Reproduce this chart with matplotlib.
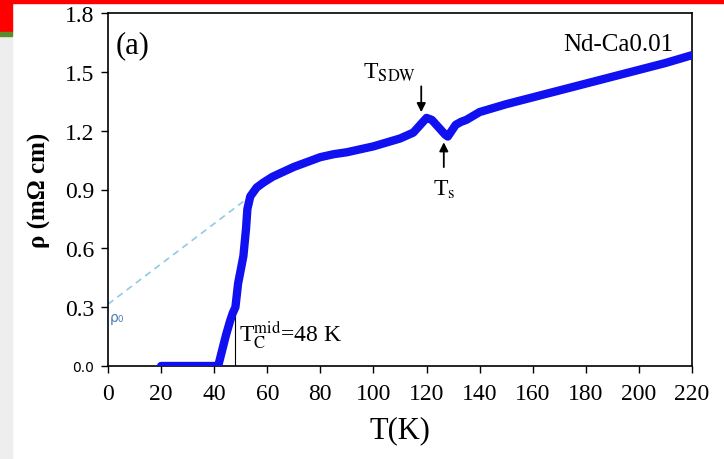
import matplotlib
matplotlib.use("Agg")
import matplotlib.pyplot as plt
from matplotlib.patches import Rectangle

# resistivity curve
temp = [20, 25, 30, 35, 40, 41.5, 43, 44.5, 46, 47, 48, 49, 50, 51, 52, 52.5,
        53.6, 56, 58.5, 62, 66, 70, 75, 80, 85, 90, 95, 100, 105, 110, 115,
        118, 120, 122, 125, 127, 128, 129, 131, 133, 135, 140, 150, 160, 170,
        180, 190, 200, 210, 220]
rho = [0.0, 0.0, 0.0, 0.0, 0.0, 0.0, 0.08, 0.16, 0.23, 0.27, 0.30, 0.42, 0.49,
       0.56, 0.70, 0.80, 0.865, 0.91, 0.935, 0.965, 0.99, 1.015, 1.04, 1.065,
       1.08, 1.09, 1.105, 1.12, 1.14, 1.16, 1.19, 1.235, 1.265, 1.255, 1.21,
       1.18, 1.17, 1.19, 1.23, 1.245, 1.255, 1.295, 1.335, 1.37, 1.405, 1.44,
       1.475, 1.51, 1.545, 1.585]

# extrapolation of the normal-state resistivity to T = 0
fit_t = [0, 55]
fit_rho = [0.315, 0.88]

tc_mid = 48
tc_rho = 0.29
t_sdw = 118
rho_sdw = 1.28
t_s = 126.5
rho_s = 1.155

xticks = list(range(0, 221, 20))
yticks = [0.0, 0.3, 0.6, 0.9, 1.2, 1.5, 1.8]

serif = "Liberation Serif"

fig = plt.figure(figsize=(7.24, 4.60), dpi=100)
fig.patch.set_facecolor("white")

# screenshot leftovers around the figure
fig.patches.append(Rectangle((0, 0), 12 / 724, 1 - 37 / 460, transform=fig.transFigure,
                             color="#eeeeee", zorder=0))
fig.patches.append(Rectangle((0, 1 - 4 / 460), 1, 4 / 460, transform=fig.transFigure,
                             color="#ff0000", zorder=0))
fig.patches.append(Rectangle((0, 1 - 33 / 460), 12 / 724, 33 / 460, transform=fig.transFigure,
                             color="#ff0000", zorder=0))
fig.patches.append(Rectangle((0, 1 - 37 / 460), 12 / 724, 4 / 460, transform=fig.transFigure,
                             color="#5b8c2a", zorder=0))

ax = fig.add_axes([108 / 724, 1 - 367 / 460, 584 / 724, 353 / 460])

ax.plot(fit_t, fit_rho, ls=(0, (4, 3)), color="#8ecbe6", lw=1.2, zorder=2)
ax.plot(temp, rho, color="#1010f0", lw=6, solid_capstyle="round",
        solid_joinstyle="round", zorder=3)
ax.plot([tc_mid, tc_mid], [0, tc_rho], color="black", lw=0.8, zorder=2)

ax.set_xlim(0, 220)
ax.set_ylim(0, 1.8)
ax.set_xticks(xticks)
ax.set_yticks(yticks)
ax.set_xticklabels([str(v) for v in xticks], fontfamily=serif, fontsize=17)
ylabels = ax.set_yticklabels([f"{v:.1f}" for v in yticks], fontfamily=serif, fontsize=17)
ylabels[0].set_fontfamily("DejaVu Sans")
ylabels[0].set_fontsize(10)
ax.tick_params(axis="x", direction="out", length=5, width=1, pad=7)
ax.tick_params(axis="y", direction="out", length=5, width=1, pad=5)
ax.tick_params(top=False, right=False)
for sp in ax.spines.values():
    sp.set_linewidth(1.2)

ax.set_xlabel("T(K)", fontfamily=serif, fontsize=22, labelpad=8)
ax.set_ylabel("ρ (mΩ cm)", fontfamily=serif, fontsize=18, fontweight="bold", labelpad=10)

ax.text(3, 1.64, "(a)", fontfamily=serif, fontsize=22, va="center")
ax.text(213, 1.64, "Nd-Ca0.01", fontfamily=serif, fontsize=18, va="center", ha="right")
ax.text(0.8, 0.25, "ρ₀", fontfamily="DejaVu Sans", fontsize=10, color="#4a7fb5", va="center")
ax.text(49.5, 0.16, r"T$_\mathrm{C}^\mathrm{mid}$=48 K", fontfamily=serif,
        fontsize=17, va="center", math_fontfamily="stix")

ax.annotate("", xy=(t_sdw, rho_sdw), xytext=(t_sdw, 1.44),
            arrowprops=dict(arrowstyle="-|>", color="black", lw=1.3, mutation_scale=13))
ax.text(t_sdw - 12, 1.50, r"T$_\mathrm{SDW}$", fontfamily=serif, fontsize=17,
        ha="center", va="center", math_fontfamily="stix")
ax.annotate("", xy=(t_s, rho_s), xytext=(t_s, 1.0),
            arrowprops=dict(arrowstyle="-|>", color="black", lw=1.3, mutation_scale=13))
ax.text(t_s, 0.905, r"T$_\mathrm{s}$", fontfamily=serif, fontsize=17,
        ha="center", va="center", math_fontfamily="stix")

fig.savefig("out.png", dpi=100)
